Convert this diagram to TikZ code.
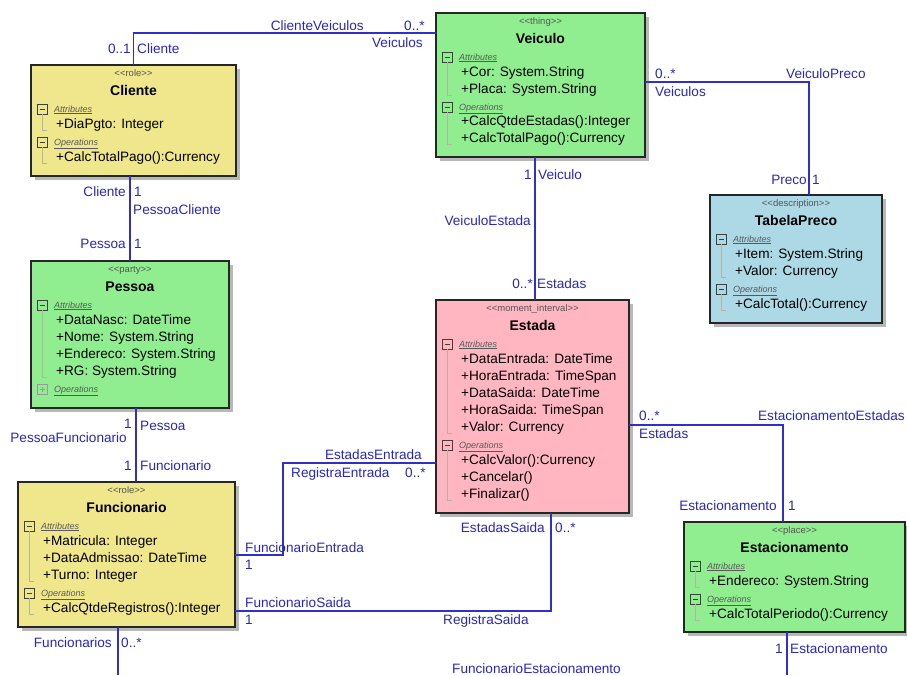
\documentclass[tikz,border=0pt]{standalone}
\usepackage{fontspec}
\setmainfont{Liberation Sans}
\usetikzlibrary{calc}

\definecolor{lineblue}{RGB}{48,48,200}
\definecolor{labelblue}{RGB}{40,40,190}
\definecolor{roleyellow}{RGB}{240,230,140}
\definecolor{thinggreen}{RGB}{144,238,144}
\definecolor{mipink}{RGB}{255,182,193}
\definecolor{descblue}{RGB}{173,216,230}
\definecolor{treegray}{RGB}{180,180,165}
\definecolor{stereogray}{RGB}{85,85,85}

\tikzset{
  classbox/.style={draw=black!85, line width=1.2pt, rectangle, inner sep=0pt,
    outer sep=0pt, anchor=north west},
  boxshadow/.style={fill=black!28},
  member/.style={font=\fontsize{13.6}{17}\selectfont, anchor=base west, inner sep=0pt},
  stereo/.style={font=\fontsize{9.5}{10}\selectfont, text=stereogray, anchor=base, inner sep=0pt},
  classname/.style={font=\bfseries\fontsize{14}{16}\selectfont, anchor=base, inner sep=0pt},
  section/.style={font=\itshape\fontsize{9}{10}\selectfont, text=black!65, anchor=base west, inner sep=0pt},
  iconbox/.style={draw=black!75, line width=0.8pt},
  iconfaint/.style={draw=black!40, line width=0.6pt},
  tree/.style={draw=treegray, line width=0.6pt},
  assoc/.style={draw=lineblue, line width=1.3pt},
  lbl/.style={font=\fontsize{13.6}{17}\selectfont, text=labelblue, inner sep=0pt},
}

% class box with shadow, stereotype and bold name
\newcommand\umlclass[8]{%
  \fill[boxshadow] (#2+4,#3+4) rectangle (#4+4,#5+4);
  \node[classbox, fill=#6, minimum width=#4pt-#2pt, minimum height=#5pt-#3pt] (#1) at (#2,#3) {};
  \node[stereo] (#1-stereo) at ({(#2+#4)/2},#3+11) {<\kern0pt<#7>\kern0pt>};
  \node[classname] (#1-title) at ({(#2+#4)/2},#3+30) {#8};
}
% expanded compartment header: minus box, caption, tree line down to #5
\newcommand\umlsection[5]{%
  \draw[iconbox] (#2+6,#3-5) rectangle (#2+16,#3+5);
  \draw[iconbox] (#2+8.5,#3) -- (#2+13.5,#3);
  \node[section] (#1) at (#2+23,#3+3) {\underline{#4}};
  \draw[tree] (#2+11,#3+5) -- (#2+11,#5) -- (#2+16,#5);
}
% collapsed compartment header: plus box and caption
\newcommand\umlsectionclosed[4]{%
  \draw[iconfaint] (#2+6,#3-5) rectangle (#2+16,#3+5);
  \draw[iconfaint] (#2+8.5,#3) -- (#2+13.5,#3) (#2+11,#3-2.5) -- (#2+11,#3+2.5);
  \node[section] (#1) at (#2+23,#3+3) {\underline{#4}};
}
% list of members, one per line
\newcommand\umlmembers[4]{%
  \foreach \m [count=\i] in {#4}
    \node[member] (#1-\i) at (#2,#3+17*\i-17) {\m};
}

\begin{document}
\begin{tikzpicture}[x=1pt,y=-1pt]
\fill[white] (0,0) rectangle (907,675);
\useasboundingbox (0,0) rectangle (907,675);

% ---------- classes ----------
\umlclass{cliente}{31}{65}{236}{176}{roleyellow}{role}{Cliente}
\umlsection{cliente-attr}{31}{109}{Attributes}{130}
\umlmembers{cliente-a}{56}{128}{+DiaPgto: Integer}
\umlsection{cliente-ops}{31}{142}{Operations}{163}
\umlmembers{cliente-o}{56}{161}{+CalcTotalPago():Currency}

\umlclass{veiculo}{436}{13}{645}{157}{thinggreen}{thing}{Veiculo}
\umlsection{veiculo-attr}{436}{57}{Attributes}{95}
\umlmembers{veiculo-a}{461}{76}{+Cor: System.String,+Placa: System.String}
\umlsection{veiculo-ops}{436}{107}{Operations}{144}
\umlmembers{veiculo-o}{461}{125}{+CalcQtdeEstadas():Integer,+CalcTotalPago():Currency}

\umlclass{tabelapreco}{710}{195}{882}{323}{descblue}{description}{TabelaPreco}
\umlsection{tabelapreco-attr}{710}{239}{Attributes}{277}
\umlmembers{tabelapreco-a}{735}{258}{+Item: System.String,+Valor: Currency}
\umlsection{tabelapreco-ops}{710}{289}{Operations}{310}
\umlmembers{tabelapreco-o}{735}{308}{+CalcTotal():Currency}

\umlclass{pessoa}{31}{261}{229}{408}{thinggreen}{party}{Pessoa}
\umlsection{pessoa-attr}{31}{305}{Attributes}{377}
\umlmembers{pessoa-a}{56}{324}{+DataNasc: DateTime,+Nome: System.String,+Endereco: System.String,+RG: System.String}
\umlsectionclosed{pessoa-ops}{31}{389}{Operations}

\umlclass{estada}{436}{300}{629}{513}{mipink}{moment\_interval}{Estada}
\umlsection{estada-attr}{436}{344}{Attributes}{433}
\umlmembers{estada-a}{461}{363}{+DataEntrada: DateTime,+HoraEntrada: TimeSpan,+DataSaida: DateTime,+HoraSaida: TimeSpan,+Valor: Currency}
\umlsection{estada-ops}{436}{445}{Operations}{500}
\umlmembers{estada-o}{461}{464}{+CalcValor():Currency,+Cancelar(),+Finalizar()}

\umlclass{funcionario}{18}{482}{235}{627}{roleyellow}{role}{Funcionario}
\umlsection{funcionario-attr}{18}{526}{Attributes}{581}
\umlmembers{funcionario-a}{43}{545}{+Matricula: Integer,+DataAdmissao: DateTime,+Turno: Integer}
\umlsection{funcionario-ops}{18}{593}{Operations}{614}
\umlmembers{funcionario-o}{43}{612}{+CalcQtdeRegistros():Integer}

\umlclass{estacionamento}{684}{522}{905}{632}{thinggreen}{place}{Estacionamento}
\umlsection{estacionamento-attr}{684}{566}{Attributes}{587}
\umlmembers{estacionamento-a}{709}{585}{+Endereco: System.String}
\umlsection{estacionamento-ops}{684}{599}{Operations}{620}
\umlmembers{estacionamento-o}{709}{618}{+CalcTotalPeriodo():Currency}

% ---------- routing points ----------
\coordinate (cvY) at (0,33);
\coordinate (vpY) at (0,82);
\coordinate (vpX) at (809,0);
\coordinate (veX) at (535,0);
\coordinate (pfX) at (136,0);
\coordinate (feY) at (0,555);
\coordinate (feC) at (283,463);
\coordinate (fsY) at (0,611);
\coordinate (fsX) at (551,0);
\coordinate (eeY) at (0,425);
\coordinate (eeX) at (783,0);
\coordinate (fxA) at (118,675);
\coordinate (fxB) at (787,675);

% ---------- associations ----------
\draw[assoc] (cliente.north) |- (veiculo.west |- cvY);
\draw[assoc] (veiculo.east |- vpY) -| (tabelapreco.north -| vpX);
\draw[assoc] (veiculo.south -| veX) -- (estada.north -| veX);
\draw[assoc] (cliente.south -| pessoa.north) -- (pessoa.north);
\draw[assoc] (pessoa.south -| pfX) -- (funcionario.north -| pfX);
\draw[assoc] (funcionario.east |- feY) -| (feC) -- (estada.west |- feC);
\draw[assoc] (funcionario.east |- fsY) -| (estada.south -| fsX);
\draw[assoc] (estada.east |- eeY) -| (estacionamento.north -| eeX);
\draw[assoc] (funcionario.south -| fxA) -- (fxA);
\draw[assoc] (estacionamento.south -| fxB) -- (fxB);

% ---------- association labels ----------
\node[lbl, anchor=base east] (cv-name) at (364,30) {ClienteVeiculos};
\node[lbl, anchor=base west] (cv-mv) at (404,30) {0..*};
\node[lbl, anchor=base east] (cv-rv) at (423,47) {Veiculos};
\node[lbl, anchor=base east] (cv-mc) at (131,53) {0..1};
\node[lbl, anchor=base west] (cv-rc) at (137,53) {Cliente};

\node[lbl, anchor=base east] (pc-rc) at (126,196) {Cliente};
\node[lbl, anchor=base west] (pc-mc) at (134,196) {1};
\node[lbl, anchor=base west] (pc-name) at (133,214) {PessoaCliente};
\node[lbl, anchor=base east] (pc-rp) at (126,248) {Pessoa};
\node[lbl, anchor=base west] (pc-mp) at (134,248) {1};

\node[lbl, anchor=base east] (pf-mp) at (132,428) {1};
\node[lbl, anchor=base west] (pf-rp) at (140,430) {Pessoa};
\node[lbl, anchor=base east] (pf-name) at (127,442) {PessoaFuncionario};
\node[lbl, anchor=base east] (pf-mf) at (132,470) {1};
\node[lbl, anchor=base west] (pf-rf) at (140,470) {Funcionario};

\node[lbl, anchor=base east] (fe-re) at (422,459) {EstadasEntrada};
\node[lbl, anchor=base west] (fe-name) at (291,477) {RegistraEntrada};
\node[lbl, anchor=base west] (fe-me) at (405,477) {0..*};
\node[lbl, anchor=base west] (fe-rf) at (245,552) {FuncionarioEntrada};
\node[lbl, anchor=base west] (fe-mf) at (245,569) {1};

\node[lbl, anchor=base west] (fs-rf) at (245,607) {FuncionarioSaida};
\node[lbl, anchor=base west] (fs-mf) at (245,624) {1};
\node[lbl, anchor=base east] (fs-re) at (545,532) {EstadasSaida};
\node[lbl, anchor=base west] (fs-me) at (555,532) {0..*};
\node[lbl, anchor=base west] (fs-name) at (443,624) {RegistraSaida};

\node[lbl, anchor=base east] (fx-rf) at (112,647) {Funcionarios};
\node[lbl, anchor=base west] (fx-mf) at (121,647) {0..*};
\node[lbl, anchor=base west] (fx-name) at (452,673) {FuncionarioEstacionamento};
\node[lbl, anchor=base east] (fx-me) at (783,653) {1};
\node[lbl, anchor=base west] (fx-re) at (790,653) {Estacionamento};

\node[lbl, anchor=base west] (vp-mv) at (655,78) {0..*};
\node[lbl, anchor=base west] (vp-rv) at (655,96) {Veiculos};
\node[lbl, anchor=base west] (vp-name) at (786,78) {VeiculoPreco};
\node[lbl, anchor=base east] (vp-rp) at (807,184) {Preco};
\node[lbl, anchor=base west] (vp-mp) at (812,184) {1};

\node[lbl, anchor=base east] (ve-mv) at (532,179) {1};
\node[lbl, anchor=base west] (ve-rv) at (538,179) {Veiculo};
\node[lbl, anchor=base east] (ve-name) at (531,225) {VeiculoEstada};
\node[lbl, anchor=base east] (ve-me) at (533,288) {0..*};
\node[lbl, anchor=base west] (ve-re) at (537,288) {Estadas};

\node[lbl, anchor=base west] (ee-me) at (639,420) {0..*};
\node[lbl, anchor=base west] (ee-re) at (639,438) {Estadas};
\node[lbl, anchor=base east] (ee-name) at (905,420) {EstacionamentoEstadas};
\node[lbl, anchor=base east] (ee-rp) at (777,510) {Estacionamento};
\node[lbl, anchor=base west] (ee-mp) at (788,510) {1};
\end{tikzpicture}
\end{document}
